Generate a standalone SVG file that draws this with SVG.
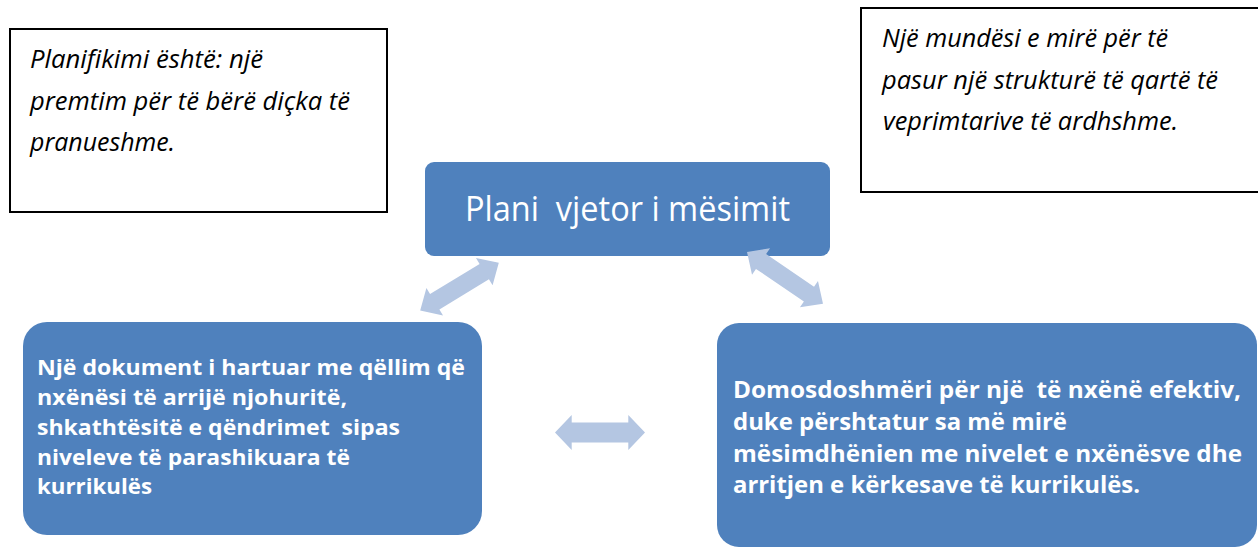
<svg xmlns="http://www.w3.org/2000/svg" width="1258" height="548" viewBox="0 0 1258 548">
<style>
text{white-space:pre}
.note{fill:#fff;stroke:#000;stroke-width:2}
.box{fill:#4F81BD}
.it{font-family:"Open Sans","Noto Sans","Liberation Sans",sans-serif;font-style:italic;font-size:25px;fill:#000}
.title{font-family:"Open Sans","Noto Sans","Liberation Sans",sans-serif;font-size:35px;fill:#fff}
.bl{font-family:"Open Sans","Noto Sans","Liberation Sans",sans-serif;font-weight:700;font-size:22px;fill:#fff}
.br{font-family:"Open Sans","Noto Sans","Liberation Sans",sans-serif;font-weight:700;font-size:24px;fill:#fff}
.arr{fill:#B4C6E2}
</style>
<defs>
<polygon id="dbl" points="-46,0 -29,-16 -29,-9 29,-9 29,-16 46,0 29,16 29,9 -29,9 -29,16"/>
</defs>
<g id="note-left">
<rect class="note" x="10" y="29" width="377" height="183"/>
<text class="it" x="30" y="68" textLength="233" lengthAdjust="spacingAndGlyphs">Planifikimi është: një</text>
<text class="it" x="30" y="110" textLength="320" lengthAdjust="spacingAndGlyphs">premtim për të bërë diçka të</text>
<text class="it" x="30" y="151" textLength="145" lengthAdjust="spacingAndGlyphs">pranueshme.</text>
</g>
<g id="note-right">
<rect class="note" x="861" y="8" width="402" height="184"/>
<text class="it" x="882" y="47" textLength="286" lengthAdjust="spacingAndGlyphs">Një mundësi e mirë për të</text>
<text class="it" x="882" y="89" textLength="336" lengthAdjust="spacingAndGlyphs">pasur një strukturë të qartë të</text>
<text class="it" x="883" y="130" textLength="295" lengthAdjust="spacingAndGlyphs">veprimtarive të ardhshme.</text>
</g>
<g id="plan">
<rect class="box" x="425" y="162" width="405" height="94" rx="9"/>
<text class="title" x="465" y="221" textLength="325" lengthAdjust="spacingAndGlyphs">Plani  vjetor i mësimit</text>
</g>
<g id="dokument">
<rect class="box" x="23" y="322" width="459" height="213" rx="24"/>
<text class="bl" x="37" y="375" textLength="428" lengthAdjust="spacingAndGlyphs">Një dokument i hartuar me qëllim që</text>
<text class="bl" x="37" y="405" textLength="310" lengthAdjust="spacingAndGlyphs">nxënësi të arrijë njohuritë,</text>
<text class="bl" x="37" y="435" textLength="363" lengthAdjust="spacingAndGlyphs">shkathtësitë e qëndrimet  sipas</text>
<text class="bl" x="37" y="465" textLength="313" lengthAdjust="spacingAndGlyphs">niveleve të parashikuara të</text>
<text class="bl" x="37" y="494" textLength="115" lengthAdjust="spacingAndGlyphs">kurrikulës</text>
</g>
<g id="domosdoshmeri">
<rect class="box" x="717" y="323" width="540" height="224" rx="22"/>
<text class="br" x="733" y="398" textLength="508" lengthAdjust="spacingAndGlyphs">Domosdoshmëri për një  të nxënë efektiv,</text>
<text class="br" x="733" y="430" textLength="334" lengthAdjust="spacingAndGlyphs">duke përshtatur sa më mirë</text>
<text class="br" x="733" y="461.5" textLength="509" lengthAdjust="spacingAndGlyphs">mësimdhënien me nivelet e nxënësve dhe</text>
<text class="br" x="733" y="493" textLength="407" lengthAdjust="spacingAndGlyphs">arritjen e kërkesave të kurrikulës.</text>
</g>
<g id="connectors">
<use href="#dbl" class="arr" transform="translate(459.5 286.7) rotate(-31.3)"/>
<use href="#dbl" class="arr" transform="translate(785 277.8) rotate(34.3)"/>
<polygon class="arr" points="555,432.5 571.7,415 571.7,422.5 628.3,422.5 628.3,415 645,432.5 628.3,450 628.3,442.5 571.7,442.5 571.7,450"/>
</g>
</svg>
